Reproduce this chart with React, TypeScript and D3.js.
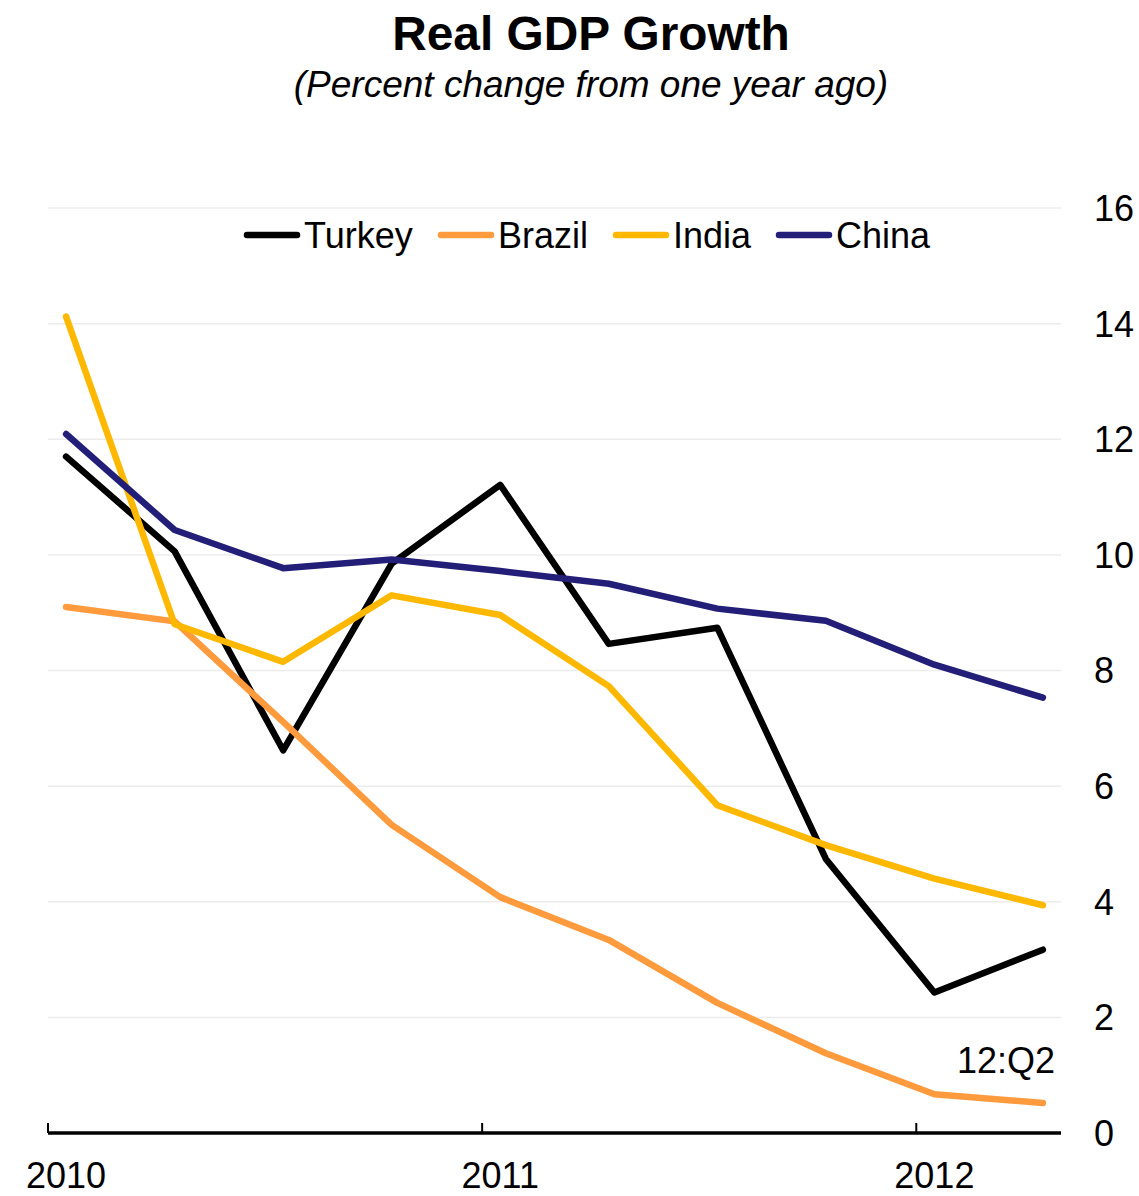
import React from "react";
import * as d3 from "d3";

const quarters = ["10:Q1","10:Q2","10:Q3","10:Q4","11:Q1","11:Q2","11:Q3","11:Q4","12:Q1","12:Q2"];
const quarterMonth = [0.5, 3.5, 6.5, 9.5, 12.5, 15.5, 18.5, 21.5, 24.5, 27.5];
const turkey = [11.70, 10.06, 6.62, 9.85, 11.21, 8.46, 8.74, 4.74, 2.43, 3.17];
const brazil = [9.10, 8.85, 7.11, 5.33, 4.08, 3.34, 2.25, 1.38, 0.67, 0.52];
const india = [14.12, 8.80, 8.15, 9.30, 8.96, 7.73, 5.67, 4.98, 4.40, 3.94];
const china = [12.09, 10.43, 9.77, 9.92, 9.72, 9.50, 9.07, 8.86, 8.10, 7.53];
const seriesNames = ["Turkey", "Brazil", "India", "China"];
const seriesColors = ["#000000", "#FF9A3D", "#FFB800", "#231F78"];
const yTicks = [0, 2, 4, 6, 8, 10, 12, 14, 16];
const yearTicks = [0, 12, 24];
const yearLabels = ["2010", "2011", "2012"];

const W = 1139;
const H = 1196;
const FONT = "'Liberation Sans', Arial, Helvetica, sans-serif";

export default function App() {
  const x = d3.scaleLinear().domain([0, 28]).range([48, 1061]);
  const y = d3.scaleLinear().domain([0, 16]).range([1133, 208]);
  const allSeries = [turkey, brazil, india, china];
  const line = d3
    .line<number>()
    .x((_, i) => x(quarterMonth[i]))
    .y((d) => y(d));

  const legendX = [247, 441, 616, 779];

  return (
    <svg
      width={W}
      height={H}
      style={{ position: "absolute", left: 0, top: 0, background: "#fff" }}
      fontFamily={FONT}
    >
      <rect x={0} y={0} width={W} height={H} fill="#fff" />
      <text x={591} y={50} textAnchor="middle" fontSize={47.8} fontWeight="bold" fill="#000">
        Real GDP Growth
      </text>
      <text x={591} y={97} textAnchor="middle" fontSize={37} fontStyle="italic" fill="#000">
        (Percent change from one year ago)
      </text>

      {yTicks.map((t) => (
        <g key={t}>
          {t > 0 && (
            <line x1={x(0)} x2={x(28)} y1={y(t)} y2={y(t)} stroke="#ececec" strokeWidth={1.5} />
          )}
          <text x={1094} y={y(t)} dy="0.36em" fontSize={36} fill="#000">
            {t}
          </text>
        </g>
      ))}

      {allSeries.map((s, k) => (
        <path
          key={seriesNames[k]}
          d={line(s) || ""}
          fill="none"
          stroke={seriesColors[k]}
          strokeWidth={6.5}
          strokeLinecap="round"
          strokeLinejoin="round"
        />
      ))}

      <line x1={x(0)} x2={x(28)} y1={y(0)} y2={y(0)} stroke="#000" strokeWidth={3.5} />
      {yearTicks.map((m, i) => (
        <g key={m}>
          <line x1={x(m)} x2={x(m)} y1={y(0)} y2={y(0) - 10} stroke="#000" strokeWidth={2} />
          <text x={x(m + 0.5)} y={1188} textAnchor="middle" fontSize={36} fill="#000">
            {yearLabels[i]}
          </text>
        </g>
      ))}

      <text x={1055} y={1073} textAnchor="end" fontSize={36} fill="#000">
        {quarters[quarters.length - 1]}
      </text>

      {seriesNames.map((n, k) => (
        <g key={n}>
          <line
            x1={legendX[k]}
            x2={legendX[k] + 50}
            y1={235}
            y2={235}
            stroke={seriesColors[k]}
            strokeWidth={6.5}
            strokeLinecap="round"
          />
          <text x={legendX[k] + 57} y={235} dy="0.36em" fontSize={36} fill="#000">
            {n}
          </text>
        </g>
      ))}
    </svg>
  );
}
